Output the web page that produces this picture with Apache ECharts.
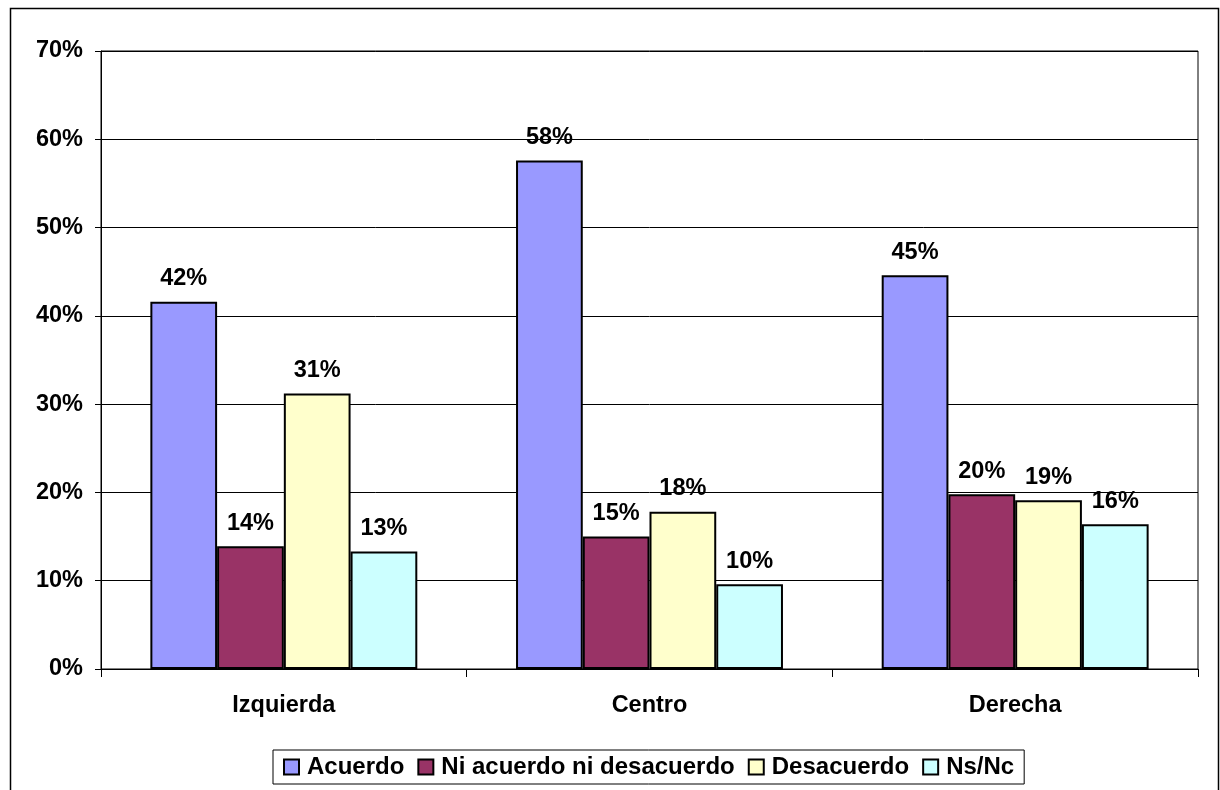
<!DOCTYPE html>
<html>
<head>
<meta charset="utf-8">
<script src="https://cdn.jsdelivr.net/npm/echarts@6/dist/echarts.min.js"></script>
<style>
html,body{margin:0;padding:0;background:#fff;}
#c{width:1220px;height:790px;}
</style>
</head>
<body>
<div id="c"></div>
<script>
const categories = ['Izquierda', 'Centro', 'Derecha'];
const seriesNames = ['Acuerdo', 'Ni acuerdo ni desacuerdo', 'Desacuerdo', 'Ns/Nc'];
const acuerdo = [41.6, 57.6, 44.6];
const niAcuerdo = [13.9, 15.0, 19.8];
const desacuerdo = [31.2, 17.8, 19.1];
const nsnc = [13.3, 9.6, 16.4];
const yTicks = [0, 10, 20, 30, 40, 50, 60, 70];
const colors = ['#9999FF', '#993366', '#FFFFCC', '#CCFFFF'];

const font = 'Liberation Sans, Arial, sans-serif';
const seriesData = [acuerdo, niAcuerdo, desacuerdo, nsnc];

const chart = echarts.init(document.getElementById('c'), null, {renderer: 'canvas'});
chart.setOption({
  animation: false,
  backgroundColor: '#fff',
  textStyle: {fontFamily: font},
  graphic: [{
    type: 'rect',
    shape: {x: 10.5, y: 8.5, width: 1208, height: 800},
    style: {fill: 'none', stroke: '#000', lineWidth: 1.5},
    silent: true, z: -1
  }],
  grid: {
    left: 101, right: 22, top: 51, bottom: 121,
    show: true, borderColor: '#000', borderWidth: 1, backgroundColor: 'transparent'
  },
  legend: {
    data: seriesNames,
    top: 750,
    left: 273,
    padding: [5, 10, 5, 10],
    borderColor: '#000',
    borderWidth: 1,
    itemWidth: 15,
    itemHeight: 15,
    itemGap: 13,
    icon: 'rect',
    textStyle: {fontFamily: font, fontWeight: 'bold', fontSize: 24, color: '#000', padding: [0, 0, 0, 3]}
  },
  xAxis: {
    type: 'category',
    data: categories,
    axisLine: {show: true, lineStyle: {color: '#000', width: 1}},
    axisTick: {show: true, length: 8, lineStyle: {color: '#000'}},
    axisLabel: {fontFamily: font, fontWeight: 'bold', fontSize: 23.5, color: '#000', margin: 25},
    splitLine: {show: false}
  },
  yAxis: {
    type: 'value',
    min: yTicks[0],
    max: yTicks[yTicks.length - 1],
    interval: 10,
    axisLine: {show: true, lineStyle: {color: '#000', width: 1}},
    axisTick: {show: true, length: 6, lineStyle: {color: '#000'}},
    axisLabel: {fontFamily: font, fontWeight: 'bold', fontSize: 23.5, color: '#000', margin: 18, formatter: '{value}%'},
    splitLine: {show: true, lineStyle: {color: '#000', width: 1}}
  },
  series: seriesData.map((d, i) => ({
    name: seriesNames[i],
    type: 'bar',
    data: d,
    barGap: '0%',
    barCategoryGap: '27%',
    itemStyle: {color: colors[i], borderColor: '#000', borderWidth: 2},
    label: {
      show: true,
      position: 'top',
      distance: 11,
      fontFamily: font,
      fontWeight: 'bold',
      fontSize: 23.5,
      color: '#000',
      formatter: p => Math.round(p.value) + '%'
    }
  }))
});
</script>
</body>
</html>
